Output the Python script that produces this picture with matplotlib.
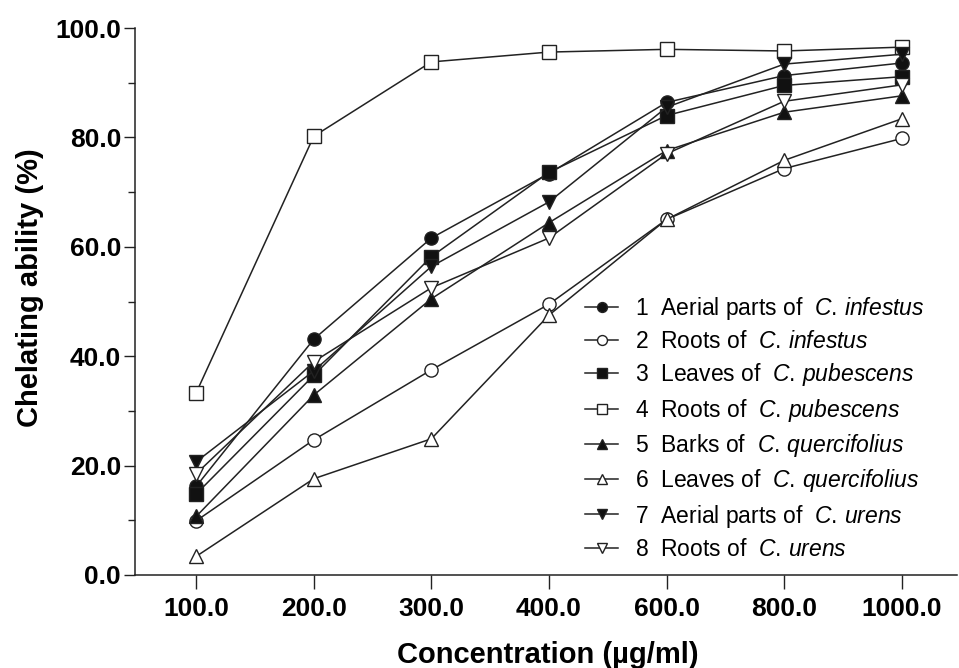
import matplotlib
matplotlib.use("Agg")
import matplotlib.pyplot as plt
import numpy as np

plt.rcParams['font.family'] = ['Liberation Sans', 'DejaVu Sans']
plt.rcParams['mathtext.fontset'] = 'custom'
plt.rcParams['mathtext.rm'] = 'Liberation Sans'
plt.rcParams['mathtext.it'] = 'Liberation Sans:italic'

concentrations = ["100.0", "200.0", "300.0", "400.0", "600.0", "800.0", "1000.0"]

aerial_c_infestus = [16.2, 43.1, 61.6, 73.4, 86.4, 91.3, 93.6]
roots_c_infestus = [9.9, 24.7, 37.5, 49.5, 65.0, 74.3, 79.8]
leaves_c_pubescens = [14.8, 36.5, 58.2, 73.6, 84.0, 89.5, 91.1]
roots_c_pubescens = [33.3, 80.2, 93.8, 95.6, 96.1, 95.8, 96.5]
barks_c_quercifolius = [10.7, 32.9, 50.5, 64.4, 77.6, 84.6, 87.6]
leaves_c_quercifolius = [3.4, 17.6, 24.9, 47.5, 65.0, 75.8, 83.4]
aerial_c_urens = [20.7, 37.3, 56.4, 68.2, 85.5, 93.4, 95.2]
roots_c_urens = [18.5, 39.0, 52.5, 61.6, 77.0, 86.6, 89.6]

labels = [
    r"1  Aerial parts of  $\mathit{C.\,infestus}$",
    r"2  Roots of  $\mathit{C.\,infestus}$",
    r"3  Leaves of  $\mathit{C.\,pubescens}$",
    r"4  Roots of  $\mathit{C.\,pubescens}$",
    r"5  Barks of  $\mathit{C.\,quercifolius}$",
    r"6  Leaves of  $\mathit{C.\,quercifolius}$",
    r"7  Aerial parts of  $\mathit{C.\,urens}$",
    r"8  Roots of  $\mathit{C.\,urens}$",
]

series = [aerial_c_infestus, roots_c_infestus, leaves_c_pubescens, roots_c_pubescens,
          barks_c_quercifolius, leaves_c_quercifolius, aerial_c_urens, roots_c_urens]
styles = [('o', 'k'), ('o', 'w'), ('s', 'k'), ('s', 'w'),
          ('^', 'k'), ('^', 'w'), ('v', 'k'), ('v', 'w')]

fig = plt.figure(figsize=(9.59, 6.68), dpi=100)
ax = fig.add_axes([135/959, 1-575/668, (957-135)/959, (575-28)/668])

x = np.arange(len(concentrations))
lc = '#222222'
for vals, (m, fc), lab in zip(series, styles, labels):
    ax.plot(x, vals, color=lc, lw=1.1, marker=m, markersize=9.5,
            markerfacecolor=fc if fc == 'w' else '#111111',
            markeredgecolor='#222222', markeredgewidth=1.0, label=lab)

ax.set_xlim(-0.52, 6.47)
ax.set_ylim(0, 100)
ax.set_xticks(x)
ax.set_xticklabels(concentrations, fontsize=19, fontweight='bold')
ax.set_yticks(np.arange(0, 101, 20))
ax.set_yticklabels([f"{v:.1f}" for v in np.arange(0, 101, 20)], fontsize=19, fontweight='bold')
ax.set_yticks(np.arange(10, 100, 20), minor=True)
ax.tick_params(axis='y', which='major', length=8, width=1, color=lc, pad=2)
ax.tick_params(axis='y', which='minor', length=5, width=1, color=lc)
ax.tick_params(axis='x', which='major', length=10, width=1, color=lc, pad=6)
for s in ['top', 'right']:
    ax.spines[s].set_visible(False)
for s in ['left', 'bottom']:
    ax.spines[s].set_linewidth(1.1)
    ax.spines[s].set_color(lc)

fig.text(548/959, 1-655/668, "Concentration (µg/ml)", fontsize=21, fontweight='bold',
         ha='center', va='center')
fig.text(30/959, 1-288/668, "Chelating ability (%)", fontsize=21, fontweight='bold',
         ha='center', va='center', rotation=90)

leg = ax.legend(loc='upper left', bbox_to_anchor=(585/959, 1-295/668),
                bbox_transform=fig.transFigure, frameon=False, fontsize=16.5,
                borderpad=0, borderaxespad=0, handlelength=1.45, handletextpad=0.75,
                labelspacing=0.36, markerscale=0.75)

fig.savefig("out.png", dpi=100)
